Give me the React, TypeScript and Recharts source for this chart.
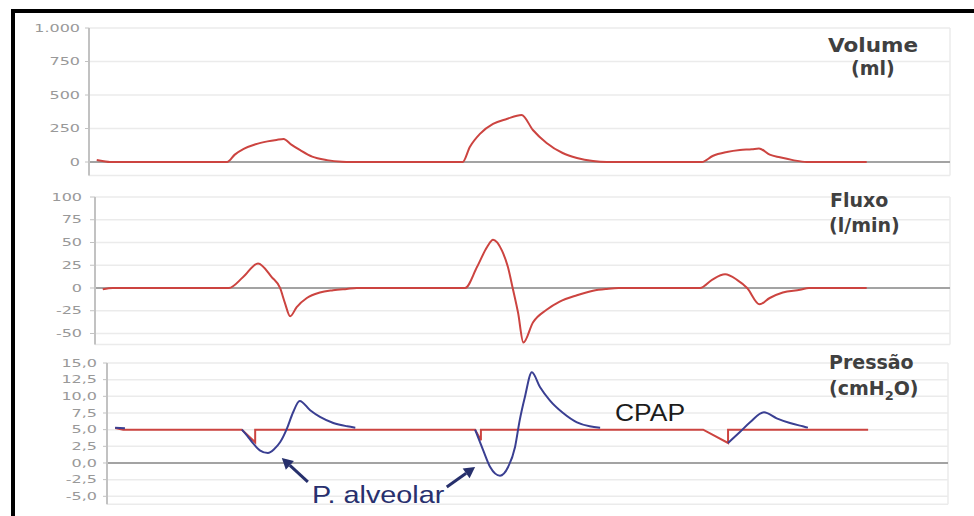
import React from 'react';
import { LineChart, Line, XAxis, YAxis, CartesianGrid, ReferenceLine } from 'recharts';

// time in grid units (one vertical grid line per unit)
const gridTimes = [0, 1, 2, 3, 4, 5, 6, 7, 8, 9, 10, 11, 12, 13, 14];

const volumeTicks = [0, 250, 500, 750, 1000];
const flowTicks = [-50, -25, 0, 25, 50, 75, 100];
const pressureTicks = [-5, -2.5, 0, 2.5, 5, 7.5, 10, 12.5, 15];

const volumeTime = [
  -0.17, -0.05, 0.05, 2.02, 2.15, 2.3, 2.5, 2.7, 2.85, 2.97, 3.1, 3.25, 3.45, 3.7, 3.95, 4.1,
  5.98, 6.1, 6.27, 6.49, 6.72, 6.97, 7.16, 7.39, 7.66, 7.9, 8.17, 8.4,
  10.0, 10.18, 10.42, 10.64, 10.84, 10.96, 11.14, 11.31, 11.53, 11.76, 12.77,
];
const volumeMl = [
  15, 6, 0, 0, 55, 98, 133, 154, 165, 172, 130, 88, 40, 14, 2, 0,
  0, 112, 210, 284, 321, 351, 239, 142, 67, 30, 7, 0,
  0, 45, 75, 90, 95, 101, 55, 35, 14, 0, 0,
];

const flowTime = [
  -0.07, 0.1, 2.05, 2.29, 2.54, 2.77, 2.91, 2.99, 3.08, 3.19, 3.36, 3.58, 3.8, 4.03, 4.2,
  6.02, 6.22, 6.39, 6.49, 6.64, 6.74, 6.82, 6.91, 7.0, 7.16, 7.39, 7.61, 7.9, 8.17, 8.4, 8.6,
  9.97, 10.17, 10.39, 10.59, 10.76, 10.97, 11.14, 11.36, 11.65, 11.8, 12.77,
];
const flowLpm = [
  -1.5, 0, 0, 12, 27, 12, 0, -16, -31, -21, -11, -5, -2.5, -1, 0,
  0, 23, 45, 53, 41, 23, 0, -27, -60, -38, -24, -15, -8, -3, -1, 0,
  0, 9, 15, 9, 0, -18, -11, -5, -2, 0, 0,
];

const cpapTime = [-0.19, -0.05, 2.0, 2.23, 2.23, 6.03, 6.13, 6.13, 9.97, 10.4, 10.4, 12.82];
const cpapCmH2O = [5.25, 5.0, 5.0, 3.1, 5.0, 5.0, 3.4, 5.0, 5.0, 3.0, 5.0, 5.0];

const alveolarTime = [
  -0.19, -0.02, 1.0,
  2.0, 2.1, 2.18, 2.31, 2.45, 2.56, 2.66, 2.78, 2.88, 3.0, 3.18, 3.35, 3.58, 3.82, 3.96, 5.0,
  6.03, 6.17, 6.29, 6.46, 6.6, 6.72, 6.8, 6.89, 7.01, 7.15, 7.32, 7.55, 7.79, 8.01, 8.19, 9.0,
  10.4, 10.6, 10.78, 11.02, 11.24, 11.47, 11.69, 11.78,
];
const alveolarCmH2O = [
  5.3, 5.2, null,
  5.0, 4.0, 3.1, 1.9, 1.5, 2.1, 3.1, 5.2, 7.5, 9.3, 7.9, 6.9, 6.0, 5.5, 5.3, null,
  5.0, 1.9, -0.6, -1.9, -0.6, 2.4, 6.4, 9.9, 13.6, 11.4, 9.4, 7.5, 6.1, 5.5, 5.3, null,
  3.0, 4.6, 6.1, 7.6, 6.7, 6.0, 5.5, 5.3,
];

// "P. alveolar" arrows: [tail, head] in (time, cmH2O)
const arrowSegments = [
  [{ x: 3.14, y: -2.84 }, { x: 2.69, y: 0.75 }],
  [{ x: 5.54, y: -3.6 }, { x: 6.03, y: -0.6 }],
];

const toRows = (ts: number[], vs: (number | null)[]) => ts.map((t, i) => ({ t, v: vs[i] }));

const volumeData = toRows(volumeTime, volumeMl);
const flowData = toRows(flowTime, flowLpm);
const cpapData = toRows(cpapTime, cpapCmH2O);
const alveolarData = toRows(alveolarTime, alveolarCmH2O);

const RED = '#cc4440';
const BLUE = '#3a3f92';
const GRID = '#ebebeb';
const AXIS = '#c2c2c2';

const fmtVolume = (v: number) => (v >= 1000 ? v.toLocaleString('de-DE') : String(v));
const fmtFlow = (v: number) => String(v);
const fmtPressure = (v: number) => v.toFixed(1).replace('.', ',');

function Tick(props: any) {
  const { x, y, payload, fmt } = props;
  return (
    <g transform={`translate(${x},${y})`}>
      <text
        x={0}
        y={0}
        dy="0.36em"
        textAnchor="end"
        transform="scale(1.6,1)"
        fontFamily="DejaVu Sans"
        fontSize={10}
        fill="#999"
      >
        {fmt(payload.value)}
      </text>
    </g>
  );
}

function Arrow(props: any) {
  const { x1, y1, x2, y2 } = props;
  const dx = x2 - x1;
  const dy = y2 - y1;
  const len = Math.sqrt(dx * dx + dy * dy) || 1;
  const ux = dx / len;
  const uy = dy / len;
  const hl = 11;
  const hw = 6;
  const bx = x2 - ux * hl;
  const by = y2 - uy * hl;
  const pts = `${x2},${y2} ${bx - uy * hw},${by + ux * hw} ${bx + uy * hw},${by - ux * hw}`;
  return (
    <g>
      <line x1={x1} y1={y1} x2={bx} y2={by} stroke="#27306c" strokeWidth={3} />
      <polygon points={pts} fill="#27306c" />
    </g>
  );
}

function xAxisFor(domain: number[]) {
  return (
    <XAxis
      type="number"
      dataKey="t"
      domain={domain}
      ticks={gridTimes}
      allowDataOverflow
      axisLine={false}
      tickLine={false}
      tick={false}
      height={0}
    />
  );
}

export default function App() {
  return (
    <div style={{ position: 'absolute', left: 0, top: 0, width: 974, height: 516, background: '#fff', overflow: 'hidden' }}>
      {/* Volume */}
      <div style={{ position: 'absolute', left: 0, top: 0 }}>
        <LineChart width={974} height={180} data={volumeData} margin={{ top: 28, right: 24, bottom: 4.6, left: 0 }}>
          <CartesianGrid stroke={GRID} strokeWidth={1.5} />
          {xAxisFor([-0.3, 14.17])}
          <YAxis
            type="number"
            domain={[-100, 1000]}
            ticks={volumeTicks}
            interval={0}
            allowDataOverflow
            width={89}
            axisLine={{ stroke: AXIS, strokeWidth: 2 }}
            tickLine={{ stroke: AXIS }}
            tickSize={4}
            tickMargin={5}
            tick={(p: any) => <Tick {...p} fmt={fmtVolume} />}
          />
          <ReferenceLine y={0} stroke="#a3a3a3" strokeWidth={2} />
          <Line type="monotone" dataKey="v" stroke={RED} strokeWidth={2} dot={false} activeDot={false} isAnimationActive={false} />
        </LineChart>
      </div>

      {/* Fluxo */}
      <div style={{ position: 'absolute', left: 0, top: 180 }}>
        <LineChart width={974} height={170} data={flowData} margin={{ top: 17, right: 24, bottom: 5.6, left: 0 }}>
          <CartesianGrid stroke={GRID} strokeWidth={1.5} />
          {xAxisFor([-0.2, 14.17])}
          <YAxis
            type="number"
            domain={[-62, 100]}
            ticks={flowTicks}
            interval={0}
            allowDataOverflow
            width={95}
            axisLine={{ stroke: AXIS, strokeWidth: 2 }}
            tickLine={{ stroke: AXIS }}
            tickSize={5}
            tickMargin={8}
            tick={(p: any) => <Tick {...p} fmt={fmtFlow} />}
          />
          <ReferenceLine y={0} stroke="#a3a3a3" strokeWidth={2} />
          <Line type="monotone" dataKey="v" stroke={RED} strokeWidth={2} dot={false} activeDot={false} isAnimationActive={false} />
        </LineChart>
      </div>

      {/* Pressão */}
      <div style={{ position: 'absolute', left: 0, top: 350 }}>
        <LineChart width={974} height={166} margin={{ top: 13, right: 26, bottom: 11.7, left: 0 }}>
          <CartesianGrid stroke={GRID} strokeWidth={1.5} />
          {xAxisFor([-0.33, 14.2])}
          <YAxis
            type="number"
            domain={[-6.2, 15]}
            ticks={pressureTicks}
            interval={0}
            allowDataOverflow
            width={107}
            axisLine={{ stroke: AXIS, strokeWidth: 2 }}
            tickLine={{ stroke: AXIS }}
            tickSize={4}
            tickMargin={6}
            tick={(p: any) => <Tick {...p} fmt={fmtPressure} />}
          />
          <ReferenceLine y={0} stroke="#a3a3a3" strokeWidth={2} />
          <Line data={cpapData} type="linear" dataKey="v" stroke={RED} strokeWidth={2} dot={false} activeDot={false} isAnimationActive={false} />
          <Line data={alveolarData} type="monotone" dataKey="v" stroke={BLUE} strokeWidth={2} dot={false} activeDot={false} connectNulls={false} isAnimationActive={false} />
          {arrowSegments.map((seg, i) => (
            <ReferenceLine key={i} segment={seg} ifOverflow="visible" shape={(p: any) => <Arrow {...p} />} />
          ))}
        </LineChart>
      </div>

      {/* titles and annotations */}
      <svg width={974} height={516} style={{ position: 'absolute', left: 0, top: 0, pointerEvents: 'none' }}>
        <g fontFamily="DejaVu Sans" fontWeight="bold" fontSize={19} fill="#404040">
          <text x={828} y={52} textLength={90} lengthAdjust="spacingAndGlyphs">Volume</text>
          <text x={851} y={75}>(ml)</text>
          <text x={830} y={207}>Fluxo</text>
          <text x={829} y={232}>(l/min)</text>
          <text x={829} y={369}>Pressão</text>
          <text x={829} y={395}>
            (cmH<tspan fontSize={13} dy={5}>2</tspan>
            <tspan dy={-5}>O)</tspan>
          </text>
        </g>
        <text transform="translate(615,421) scale(1.15,1)" fontFamily="Liberation Sans" fontSize={23} fill="#1c1c1c">
          CPAP
        </text>
        <text transform="translate(312,503) scale(1.2,1)" fontFamily="Liberation Sans" fontSize={24} fill="#28306e">
          P. alveolar
        </text>
      </svg>

      {/* black frame */}
      <div
        style={{
          position: 'absolute',
          left: 11,
          top: 9,
          width: 970,
          height: 520,
          borderTop: '4px solid #000',
          borderLeft: '4px solid #000',
          boxSizing: 'border-box',
        }}
      />
    </div>
  );
}
